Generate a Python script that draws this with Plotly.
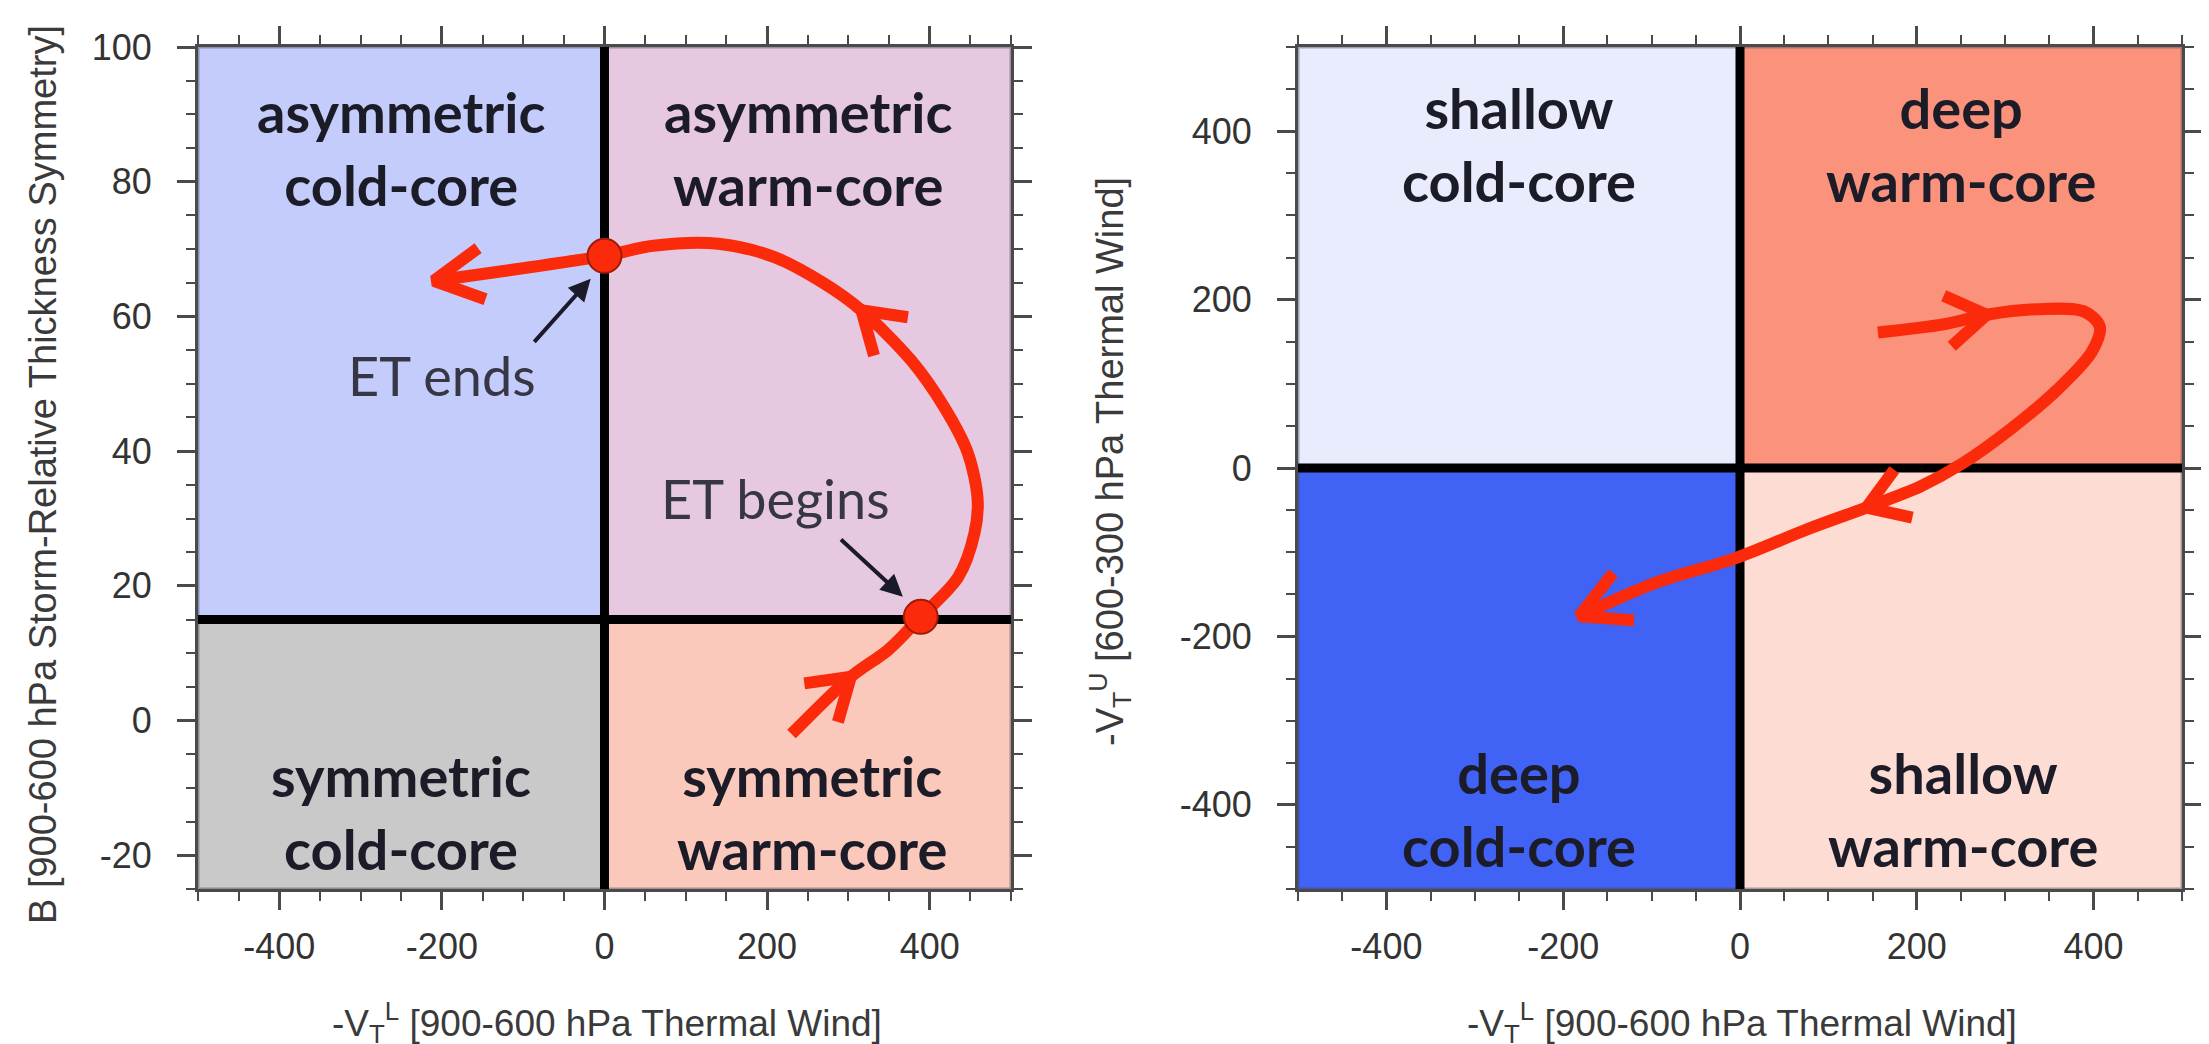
import numpy as np
import plotly.graph_objects as go

# ---------------- data ----------------
X_RANGE = [-500, 500]
LEFT_Y_RANGE = [-25, 100]
RIGHT_Y_RANGE = [-500, 500]
LEFT_B_DIVIDER = 15
RIGHT_Y_DIVIDER = 0
X_DIVIDER = 0

X_TICKS = [-400, -200, 0, 200, 400]
X_TICK_LABELS = ["-400", "-200", "0", "200", "400"]
LEFT_Y_TICKS = [-20, 0, 20, 40, 60, 80, 100]
LEFT_Y_TICK_LABELS = ["-20", "0", "20", "40", "60", "80", "100"]
RIGHT_Y_TICKS = [-400, -200, 0, 200, 400]
RIGHT_Y_TICK_LABELS = ["-400", "-200", "0", "200", "400"]

# phase path, left panel (-VTL, B), in travel order
LEFT_PATH_X = [230, 303, 349, 389, 435, 455, 459, 447, 418, 377, 316, 270, 209, 140, 60, 0, -210]
LEFT_PATH_Y = [-2, 6.5, 10.5, 15.4, 21.3, 27.8, 32.7, 39.7, 46.5, 53.5, 60.9, 64.9, 68.8, 70.8, 70.5, 69, 65.3]
LEFT_CHEVRON_IDX = [1, 10]
LEFT_DOTS_X = [389, 0]
LEFT_DOTS_Y = [15.4, 69]

# phase path, right panel (-VTL, -VTU)
RIGHT_PATH_X = [156, 230, 279, 337, 389, 407, 398, 359, 307, 251, 204, 143, 78, -5, -95, -182]
RIGHT_PATH_Y = [161, 170.6, 182, 188.6, 186, 168, 138, 93, 47, 5, -22, -47, -72, -107, -136, -176]
RIGHT_CHEVRON_IDX = [2, 11]

LEFT_QUAD_LABELS = ["asymmetric<br>cold-core", "asymmetric<br>warm-core",
                    "symmetric<br>cold-core", "symmetric<br>warm-core"]
LEFT_QUAD_LABEL_X = [-250, 250, -250, 255]
LEFT_QUAD_LABEL_Y = [85, 85, -13.5, -13.5]
RIGHT_QUAD_LABELS = ["shallow<br>cold-core", "deep<br>warm-core",
                     "deep<br>cold-core", "shallow<br>warm-core"]
RIGHT_QUAD_LABEL_X = [-250, 250, -250, 252]
RIGHT_QUAD_LABEL_Y = [385, 385, -405, -405]

ET_TEXTS = ["ET ends", "ET begins"]
ET_TEXT_X = [-200, 210]
ET_TEXT_Y = [51.3, 33]
ET_ARROW_HEAD_X = [-17, 367]
ET_ARROW_HEAD_Y = [65.6, 18.4]
ET_ARROW_TAIL_X = [-88, 289]
ET_ARROW_TAIL_Y = [56, 27.1]

# ---------------- style / layout ----------------
W, H = 2209, 1044
BODY = 8  # page body margin of the html, compensated in paper positions


def px_x(p):
    return (p - BODY) / W


def px_y(p):
    return 1 - (p - BODY) / H


LEFT_DOM = [px_x(198), px_x(1011)]
RIGHT_DOM = [px_x(1298), px_x(2182)]
Y_DOM = [px_y(889), px_y(47)]

RED = "#fb2a0a"
LEFT_COLORS = ["#c3ccfa", "#e6c8e1", "#c9c9c9", "#fbc8bc"]   # TL, TR, BL, BR
RIGHT_COLORS = ["#e9ecfc", "#fa927c", "#4062f5", "#fddcd4"]
LABEL_COLOR = "#1c1c28"
AXIS_COLOR = "#4a4a4a"

fig = go.Figure()


def px_per_unit(dom, rng, total):
    return (dom[1] - dom[0]) * total / (rng[1] - rng[0])


def chevron(tx, ty, dx, dy, kx, ky, L=48, theta=np.radians(31)):
    vx, vy = dx * kx, dy * ky
    n = np.hypot(vx, vy)
    bx, by = -vx / n, -vy / n
    xs, ys = [], []
    for s in (1, -1):
        c, si = np.cos(s * theta), np.sin(s * theta)
        wx, wy = bx * c - by * si, bx * si + by * c
        xs.append(tx + L * wx / kx)
        ys.append(ty + L * wy / ky)
    return [xs[0], tx, xs[1], None], [ys[0], ty, ys[1], None]


def add_panel(xref, yref, yrng, ydiv, colors, path_x, path_y, chev_idx, dom, dots=None):
    x0, x1 = X_RANGE
    y0, y1 = yrng
    quads = [(x0, X_DIVIDER, ydiv, y1), (X_DIVIDER, x1, ydiv, y1),
             (x0, X_DIVIDER, y0, ydiv), (X_DIVIDER, x1, y0, ydiv)]
    for (a, b, c, d), col in zip(quads, colors):
        fig.add_shape(type="rect", xref=xref, yref=yref, x0=a, x1=b, y0=c, y1=d,
                      fillcolor=col, line=dict(color="rgba(70,70,90,0.45)", width=3),
                      layer="below")
    fig.add_shape(type="line", xref=xref, yref=yref, x0=X_DIVIDER, x1=X_DIVIDER, y0=y0, y1=y1,
                  line=dict(color="black", width=9), layer="below")
    fig.add_shape(type="line", xref=xref, yref=yref, x0=x0, x1=x1, y0=ydiv, y1=ydiv,
                  line=dict(color="black", width=9), layer="below")

    xa = "x" if xref == "x" else "x2"
    ya = "y" if yref == "y" else "y2"
    fig.add_trace(go.Scatter(x=path_x, y=path_y, mode="lines", xaxis=xa, yaxis=ya,
                             line=dict(color=RED, width=12, shape="spline", smoothing=0.9),
                             hoverinfo="skip", showlegend=False))
    kx = px_per_unit(dom, X_RANGE, W)
    ky = px_per_unit(Y_DOM, yrng, H)
    cx, cy = [], []
    for i in chev_idx:
        a, b = chevron(path_x[i], path_y[i], path_x[i + 1] - path_x[i - 1],
                       path_y[i + 1] - path_y[i - 1], kx, ky, L=47, theta=np.radians(33))
        cx += a
        cy += b
    a, b = chevron(path_x[-1], path_y[-1], path_x[-1] - path_x[-2],
                   path_y[-1] - path_y[-2], kx, ky, L=55, theta=np.radians(28))
    cx += a
    cy += b
    fig.add_trace(go.Scatter(x=cx, y=cy, mode="lines", xaxis=xa, yaxis=ya,
                             line=dict(color=RED, width=12),
                             hoverinfo="skip", showlegend=False))
    if dots:
        fig.add_trace(go.Scatter(x=dots[0], y=dots[1], mode="markers", xaxis=xa, yaxis=ya,
                                 marker=dict(size=34, color=RED,
                                             line=dict(color="#a01a08", width=2)),
                                 hoverinfo="skip", showlegend=False))


add_panel("x", "y", LEFT_Y_RANGE, LEFT_B_DIVIDER, LEFT_COLORS, LEFT_PATH_X, LEFT_PATH_Y,
          LEFT_CHEVRON_IDX, LEFT_DOM, dots=(LEFT_DOTS_X, LEFT_DOTS_Y))
add_panel("x2", "y2", RIGHT_Y_RANGE, RIGHT_Y_DIVIDER, RIGHT_COLORS, RIGHT_PATH_X, RIGHT_PATH_Y,
          RIGHT_CHEVRON_IDX, RIGHT_DOM)

annotations = []
LABEL_FONT = dict(family="Lato, Open Sans, sans-serif", size=56, color=LABEL_COLOR)


def bold_lines(t):
    return "<b>" + t.replace("<br>", "</b><br><b>") + "</b>"


for t, x, y in zip(LEFT_QUAD_LABELS, LEFT_QUAD_LABEL_X, LEFT_QUAD_LABEL_Y):
    annotations.append(dict(text=bold_lines(t), x=x, y=y, xref="x", yref="y",
                            xanchor="center", yanchor="middle", showarrow=False, font=LABEL_FONT))
for t, x, y in zip(RIGHT_QUAD_LABELS, RIGHT_QUAD_LABEL_X, RIGHT_QUAD_LABEL_Y):
    annotations.append(dict(text=bold_lines(t), x=x, y=y, xref="x2", yref="y2",
                            xanchor="center", yanchor="middle", showarrow=False, font=LABEL_FONT))
for t, x, y in zip(ET_TEXTS, ET_TEXT_X, ET_TEXT_Y):
    annotations.append(dict(text=t, x=x, y=y, xref="x", yref="y", showarrow=False,
                            xanchor="center", yanchor="middle",
                            font=dict(family="Lato, Open Sans, sans-serif", size=54, color="#363644")))
for hx, hy, tx, ty in zip(ET_ARROW_HEAD_X, ET_ARROW_HEAD_Y, ET_ARROW_TAIL_X, ET_ARROW_TAIL_Y):
    annotations.append(dict(text="", x=hx, y=hy, ax=tx, ay=ty, xref="x", yref="y",
                            axref="x", ayref="y", showarrow=True, arrowhead=2,
                            arrowsize=1.1, arrowwidth=4, arrowcolor="#1a1a2a"))

XT_FONT = dict(family="Liberation Sans, Arial, sans-serif", size=37, color="#3a3a3a")
YT_FONT = dict(family="Liberation Sans, Arial, sans-serif", size=38, color="#3a3a3a")
annotations += [
    dict(text="-V<sub>T</sub><sup>L</sup> [900-600 hPa Thermal Wind]", x=px_x(607), y=px_y(1022),
         xref="paper", yref="paper", xanchor="center", yanchor="middle", showarrow=False, font=XT_FONT),
    dict(text="-V<sub>T</sub><sup>L</sup> [900-600 hPa Thermal Wind]", x=px_x(1742), y=px_y(1022),
         xref="paper", yref="paper", xanchor="center", yanchor="middle", showarrow=False, font=XT_FONT),
    dict(text="B [900-600 hPa Storm-Relative Thickness Symmetry]", x=px_x(43), y=px_y(475),
         xref="paper", yref="paper", xanchor="center", yanchor="middle", showarrow=False,
         textangle=-90, font=YT_FONT),
    dict(text="-V<sub>T</sub><sup>U</sup> [600-300 hPa Thermal Wind]", x=px_x(1110), y=px_y(462),
         xref="paper", yref="paper", xanchor="center", yanchor="middle", showarrow=False,
         textangle=-90, font=YT_FONT),
]

TICK_FONT = dict(family="Liberation Sans, Arial, sans-serif", size=36, color="#333333")
common = dict(showgrid=False, zeroline=False, showline=True, linecolor=AXIS_COLOR, linewidth=3,
              mirror="ticks", ticks="outside", ticklen=18, tickwidth=3, tickcolor=AXIS_COLOR,
              tickfont=TICK_FONT, fixedrange=True, automargin=False)


def xaxis(dom, anchor):
    return dict(common, domain=dom, range=X_RANGE, anchor=anchor, tickmode="array",
                tickvals=X_TICKS, ticktext=X_TICK_LABELS, ticklabelstandoff=6,
                minor=dict(dtick=50, tick0=0, ticklen=9, tickwidth=2, tickcolor=AXIS_COLOR,
                           ticks="outside", showgrid=False))


fig.update_layout(
    width=W, height=H, margin=dict(l=0, r=0, t=0, b=0, autoexpand=False),
    paper_bgcolor="white", plot_bgcolor="white", showlegend=False,
    xaxis=xaxis(LEFT_DOM, "y"),
    xaxis2=xaxis(RIGHT_DOM, "y2"),
    yaxis=dict(common, domain=Y_DOM, range=LEFT_Y_RANGE, anchor="x", tickmode="array",
               tickvals=LEFT_Y_TICKS, ticktext=LEFT_Y_TICK_LABELS, ticklabelstandoff=18,
               minor=dict(dtick=5, tick0=0, ticklen=9, tickwidth=2, tickcolor=AXIS_COLOR,
                          ticks="outside", showgrid=False)),
    yaxis2=dict(common, domain=Y_DOM, range=RIGHT_Y_RANGE, anchor="x2", tickmode="array",
                tickvals=RIGHT_Y_TICKS, ticktext=RIGHT_Y_TICK_LABELS, ticklabelstandoff=18,
                minor=dict(dtick=50, tick0=0, ticklen=9, tickwidth=2, tickcolor=AXIS_COLOR,
                           ticks="outside", showgrid=False)),
    annotations=annotations,
)

fig.write_html("out.html")
